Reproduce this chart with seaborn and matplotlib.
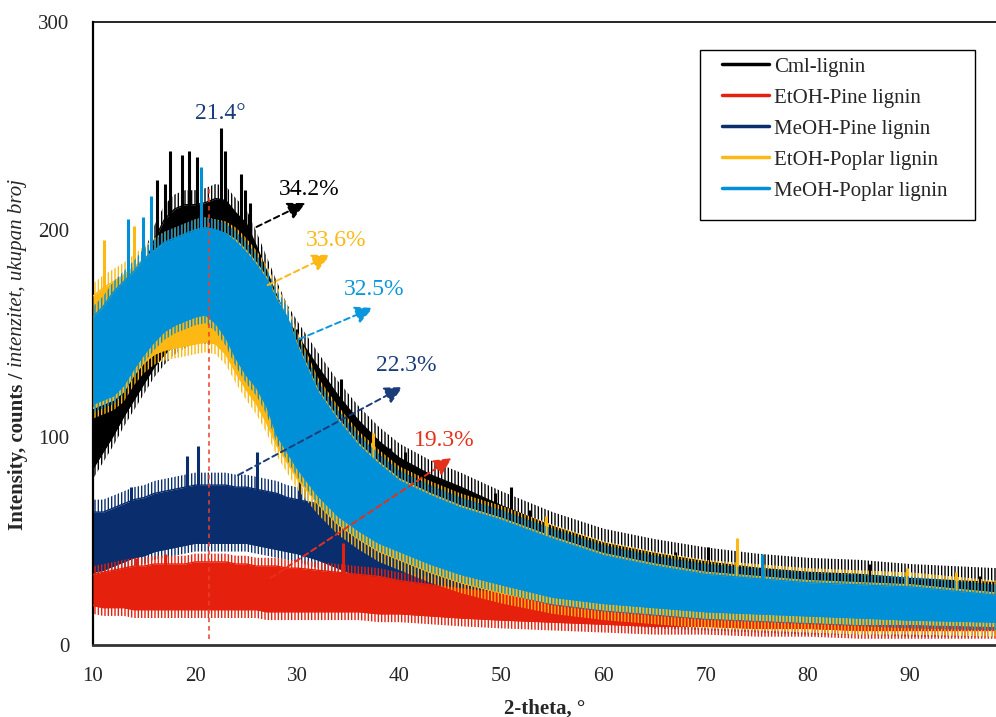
import numpy as np
import matplotlib
matplotlib.use("Agg")
import matplotlib.pyplot as plt
from matplotlib.lines import Line2D
from matplotlib.patches import Rectangle
import seaborn as sns

# ---------------- data ----------------
x_deg = [10, 11, 12, 13, 14, 15, 16, 17, 18, 19, 20, 21, 22, 23, 24, 25, 26, 27, 28, 29, 30,
         32, 34, 36, 38, 40, 43, 46, 50, 55, 60, 65, 70, 75, 80, 85, 90, 98.5]

cml_hi = [118, 130, 145, 158, 170, 182, 195, 205, 210, 212, 212, 213, 215, 214, 208, 203, 192, 180, 168, 157, 149,
          134, 120, 108, 98, 90, 82, 76, 67, 57, 49, 44, 40, 37, 35, 34, 32, 30]
cml_lo = [85, 93, 101, 110, 118, 126, 134, 140, 145, 148, 150, 150, 150, 146, 137, 130, 124, 115, 102, 94, 86,
          74, 63, 56, 50, 46, 40, 35, 30, 24, 21, 19, 17, 16, 15, 14, 13, 12]

etoh_pine_hi = [34, 35, 36, 37, 38, 38, 39, 39, 39, 39, 40, 40, 40, 40, 39, 39, 38, 38, 38, 37, 37,
                36, 35, 34, 33, 31, 29, 27, 25, 22, 19, 17, 16, 15, 14, 13, 13, 12]
etoh_pine_lo = [19, 18, 18, 18, 17, 17, 17, 17, 17, 17, 17, 17, 17, 17, 17, 17, 17, 16, 16, 16, 16,
                16, 16, 16, 15, 15, 14, 13, 12, 11, 10, 9, 9, 8, 8, 7, 7, 7]

meoh_pine_hi = [64, 64, 66, 68, 70, 71, 73, 74, 75, 76, 77, 77, 77, 77, 76, 76, 75, 74, 73, 71, 70,
                68, 64, 58, 53, 48, 43, 37, 31, 25, 21, 18, 16, 15, 14, 13, 12, 11]
meoh_pine_lo = [35, 36, 38, 40, 42, 43, 45, 46, 47, 48, 49, 49, 49, 49, 49, 49, 48, 47, 46, 45, 44,
                41, 37, 33, 30, 28, 25, 23, 20, 17, 14, 12, 11, 10, 9, 9, 8, 8]

etoh_poplar_hi = [168, 172, 175, 178, 182, 186, 190, 193, 195, 197, 199, 200, 199, 198, 195, 190, 184, 177, 167, 158, 145,
                  123, 109, 97, 88, 80, 73, 67, 61, 52, 44, 39, 35, 33, 31, 30, 29, 25]
etoh_poplar_lo = [114, 116, 118, 122, 130, 136, 140, 142, 143, 144, 145, 146, 145, 140, 131, 123, 116, 107, 96, 88, 80,
                  68, 58, 51, 45, 41, 35, 30, 25, 20, 17, 15, 13, 12, 11, 10, 10, 9]

meoh_poplar_hi = [158, 163, 170, 175, 180, 186, 190, 194, 196, 198, 200, 201, 200, 198, 194, 189, 183, 176, 166, 158, 144,
                  122, 108, 96, 87, 79, 72, 66, 60, 51, 43, 38, 34, 32, 30, 29, 28, 24]
meoh_poplar_lo = [116, 118, 120, 125, 133, 140, 146, 151, 154, 156, 158, 159, 155, 148, 138, 130, 124, 115, 101, 93, 85,
                  72, 62, 55, 49, 45, 39, 34, 29, 23, 20, 18, 16, 15, 14, 13, 12, 11]

# isolated spikes (x, peak value)
cml_spike_x = [16.3, 17.0, 17.5, 18.7, 19.4, 20.2, 22.5, 22.9, 24.5, 24.9, 25.4, 30.0, 34.3, 35.5, 39.1, 40.5,
               49.4, 50.9, 52.8, 67.0, 70.2, 86.0, 96.7]
cml_spike_y = [224, 222, 238, 236, 238, 235, 249, 238, 227, 219, 213, 152, 128, 108, 95, 93,
               73, 76, 65, 45, 47, 39, 33]
meoh_poplar_spike_x = [13.4, 14.9, 15.7, 20.6, 75.5]
meoh_poplar_spike_y = [205, 206, 216, 230, 44]
etoh_poplar_spike_x = [11.1, 14.0, 37.4, 54.3, 73.0, 89.7, 94.5]
etoh_poplar_spike_y = [195, 202, 102, 62, 51.5, 37, 35]
meoh_pine_spike_x = [13.7, 19.2, 20.3, 26.1, 30.2]
meoh_pine_spike_y = [76, 91, 96, 93, 79]
etoh_pine_spike_x = [14.3, 17.0, 34.5]
etoh_pine_spike_y = [42, 44, 49]

series_names = ["Cml-lignin", "EtOH-Pine lignin", "MeOH-Pine lignin", "EtOH-Poplar lignin", "MeOH-Poplar lignin"]
crystallinity = ["34.2%", "19.3%", "22.3%", "33.6%", "32.5%"]
peak_angle = 21.4
peak_label = "21.4°"

# ---------------- styling ----------------
sns.set_theme(style="white")
plt.rcParams["font.family"] = ["Liberation Serif", "DejaVu Serif"]
plt.rcParams["hatch.linewidth"] = 1.0

colors = {
    "Cml-lignin": "#000000",
    "EtOH-Pine lignin": "#E5200C",
    "MeOH-Pine lignin": "#0A2D6E",
    "EtOH-Poplar lignin": "#FDB813",
    "MeOH-Poplar lignin": "#0090D8",
}
label_colors = {
    "Cml-lignin": "#000000",
    "EtOH-Pine lignin": "#E5301C",
    "MeOH-Pine lignin": "#1A3C7A",
    "EtOH-Poplar lignin": "#FDB813",
    "MeOH-Poplar lignin": "#0A96DC",
}

# (lo, hi, spikes x, spikes y, z-order, fringe above, fringe below)
data = {
    "Cml-lignin": (cml_lo, cml_hi, cml_spike_x, cml_spike_y, 1, 7, 5),
    "MeOH-Pine lignin": (meoh_pine_lo, meoh_pine_hi, meoh_pine_spike_x, meoh_pine_spike_y, 2, 6, 4),
    "EtOH-Pine lignin": (etoh_pine_lo, etoh_pine_hi, etoh_pine_spike_x, etoh_pine_spike_y, 3, 4, 4),
    "EtOH-Poplar lignin": (etoh_poplar_lo, etoh_poplar_hi, etoh_poplar_spike_x, etoh_poplar_spike_y, 4, 6, 5),
    "MeOH-Poplar lignin": (meoh_poplar_lo, meoh_poplar_hi, meoh_poplar_spike_x, meoh_poplar_spike_y, 5, 5, 4),
}

W, H = 996, 717
fig = plt.figure(figsize=(W / 100, H / 100), dpi=100)
ax = fig.add_axes([93 / W, 1 - 645 / H, (996 - 93) / W, (645 - 22) / H])

for name, (lo, hi, sx, sy, z, fu, fl) in data.items():
    c = colors[name]
    lo_a = np.asarray(lo, float)
    hi_a = np.asarray(hi, float)
    ax.fill_between(x_deg, lo_a, hi_a, color=c, lw=0, zorder=z)
    sns.lineplot(x=x_deg, y=hi, ax=ax, color=c, lw=1.0, zorder=z)
    sns.lineplot(x=x_deg, y=lo, ax=ax, color=c, lw=1.0, zorder=z)
    # noisy fringe rendered as a fine vertical hatch above and below the band
    ax.fill_between(x_deg, hi_a, hi_a + fu, facecolor="none", edgecolor=c,
                    hatch="|||||", lw=0, zorder=z)
    ax.fill_between(x_deg, lo_a - fl, lo_a, facecolor="none", edgecolor=c,
                    hatch="|||||", lw=0, zorder=z)
    base = np.interp(sx, x_deg, hi) - 2
    ax.vlines(sx, base, sy, color=c, lw=2.2, zorder=z)

ax.set_xlim(10, 98.4)
ax.set_ylim(0, 300)
ax.set_xticks([10, 20, 30, 40, 50, 60, 70, 80, 90])
ax.set_yticks([0, 100, 200, 300])
ax.tick_params(axis="x", labelsize=15, length=0, pad=16)
ax.tick_params(axis="y", labelsize=15, length=0, pad=17)
ax.spines["right"].set_visible(False)
ax.spines["left"].set_color("#000000")
ax.spines["left"].set_linewidth(1.6)
ax.spines["top"].set_color("#000000")
ax.spines["top"].set_linewidth(1.2)
ax.spines["bottom"].set_color("#333333")
ax.spines["bottom"].set_linewidth(2.0)
ax.spines["bottom"].set_zorder(8)
ax.grid(False)

ax.set_xlabel("2-theta, °", fontsize=15, fontweight="bold", labelpad=9)
ax.set_ylabel("")

# y label: bold part + italic part
t1 = fig.text(18 / W, 1 - 530 / H, "Intensity, counts / ", rotation=90, fontsize=15,
              fontweight="bold", ha="center", va="bottom")
fig.canvas.draw()
bb = t1.get_window_extent()
fig.text(18 / W, bb.y1 / H, "intenzitet, ukupan broj", rotation=90, fontsize=15,
         fontstyle="italic", ha="center", va="bottom")

# peak position
ax.plot([peak_angle, peak_angle], [3, 221], ls=(0, (3, 2.5)), color="#E8412C", lw=1.1, zorder=6)
ax.text(22.5, 256, peak_label, color="#1A3C7A", fontsize=17, ha="center", va="center", zorder=10)

# crystallinity arrows
arrows = {
    "Cml-lignin": ((26.0, 201.3), (30.8, 212.8), (31.2, 219.5)),
    "EtOH-Poplar lignin": ((27.1, 173.3), (33.2, 187.8), (33.8, 195.0)),
    "MeOH-Poplar lignin": ((30.2, 147.3), (37.4, 162.3), (37.5, 171.0)),
    "MeOH-Pine lignin": ((24.2, 81.8), (40.3, 124.2), (40.7, 134.8)),
    "EtOH-Pine lignin": ((27.4, 32.3), (45.1, 90.0), (44.4, 98.7)),
}
for name, (start, tip, lab) in arrows.items():
    c = label_colors[name]
    ax.annotate("", xy=tip, xytext=start,
                arrowprops=dict(arrowstyle="-|>,head_length=0.9,head_width=0.45",
                                linestyle=(0, (3, 2)), color=c, lw=1.4,
                                shrinkA=0, shrinkB=0),
                zorder=10)
    ax.text(lab[0], lab[1], crystallinity[series_names.index(name)], color=c,
            fontsize=17, ha="center", va="center", zorder=10)

# legend
fig.patches.append(Rectangle((700 / W, 1 - 220 / H), 275 / W, 170 / H, transform=fig.transFigure,
                             facecolor="white", edgecolor="black", lw=1.0, zorder=20))
handles = [Line2D([], [], color=colors[n], lw=2.5) for n in series_names]
leg = fig.legend(handles, series_names, loc="upper left", bbox_to_anchor=(722 / W, 1 - 57 / H),
                 bbox_transform=fig.transFigure, frameon=False, fontsize=15,
                 handlelength=2.25, handletextpad=0.25, labelspacing=0.55,
                 borderpad=0, borderaxespad=0)
leg.set_zorder(21)

fig.savefig("out.png", dpi=100)
